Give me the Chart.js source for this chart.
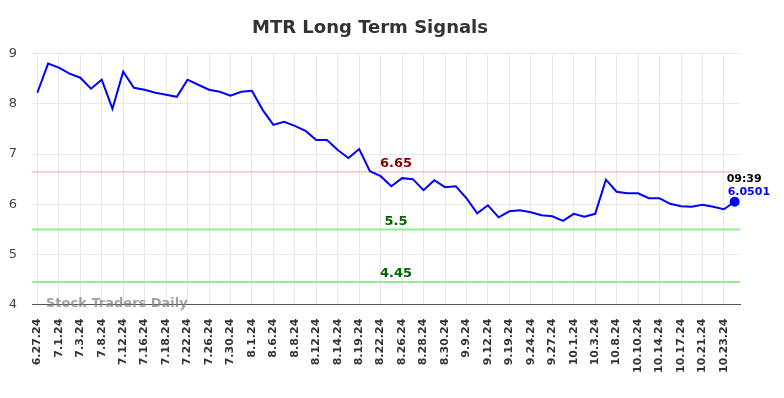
<!DOCTYPE html>
<html>
<head>
<meta charset="utf-8">
<script src="https://cdn.jsdelivr.net/npm/chart.js@4.4.1/dist/chart.umd.min.js"></script>
<style>
  html, body { margin: 0; padding: 0; background: #fff; }
  #wrap { width: 784px; height: 398px; }
</style>
</head>
<body>
<div id="wrap"><canvas id="chart"></canvas></div>
<script>
const dates = [
    "6.27.24", "6.28.24", "7.1.24", "7.2.24", "7.3.24", "7.5.24", "7.8.24", "7.10.24",
    "7.12.24", "7.15.24", "7.16.24", "7.17.24", "7.18.24", "7.19.24", "7.22.24", "7.24.24",
    "7.26.24", "7.29.24", "7.30.24", "7.31.24", "8.1.24", "8.2.24", "8.6.24", "8.7.24",
    "8.8.24", "8.9.24", "8.12.24", "8.13.24", "8.14.24", "8.16.24", "8.19.24", "8.21.24",
    "8.22.24", "8.23.24", "8.26.24", "8.27.24", "8.28.24", "8.29.24", "8.30.24", "9.6.24",
    "9.9.24", "9.11.24", "9.12.24", "9.17.24", "9.19.24", "9.23.24", "9.24.24", "9.26.24",
    "9.27.24", "9.30.24", "10.1.24", "10.2.24", "10.3.24", "10.7.24", "10.8.24", "10.9.24",
    "10.10.24", "10.11.24", "10.14.24", "10.16.24", "10.17.24", "10.18.24", "10.21.24", "10.22.24",
    "10.23.24", "10.24.24"
];
const prices = [
    8.22, 8.80, 8.72, 8.60, 8.52, 8.30, 8.48, 7.90,
    8.64, 8.32, 8.28, 8.22, 8.18, 8.14, 8.48, 8.38,
    8.28, 8.24, 8.16, 8.24, 8.26, 7.88, 7.58, 7.64,
    7.56, 7.46, 7.28, 7.28, 7.08, 6.92, 7.10, 6.66,
    6.56, 6.36, 6.52, 6.50, 6.28, 6.48, 6.34, 6.36,
    6.12, 5.82, 5.98, 5.74, 5.86, 5.88, 5.84, 5.78,
    5.76, 5.67, 5.81, 5.75, 5.81, 6.49, 6.25, 6.22,
    6.22, 6.12, 6.12, 6.01, 5.96, 5.95, 5.99, 5.95,
    5.90, 6.0501
];
const resistance = [6.65];
const supports = [5.5, 4.45];
const yTicks = [4, 5, 6, 7, 8, 9];
const lastTime = "09:39";

// draws the signal lines, their labels, the last value tag and the watermark
const signalPlugin = {
    id: "signals",
    beforeDatasetsDraw(chart) {
        const { ctx, chartArea, scales } = chart;
        const y = scales.y;
        ctx.save();
        const levels = [
            ...resistance.map(v => ({ v, line: "rgba(255,0,0,0.2)", text: "#8b0000" })),
            ...supports.map(v => ({ v, line: "#90ee90", text: "#006400" })),
        ];
        const midX = 396;
        levels.forEach(l => {
            const py = y.getPixelForValue(l.v);
            ctx.strokeStyle = l.line;
            ctx.lineWidth = 2;
            ctx.beginPath();
            ctx.moveTo(chartArea.left, py);
            ctx.lineTo(chartArea.right, py);
            ctx.stroke();
            ctx.fillStyle = l.text;
            ctx.font = "bold 13px 'DejaVu Sans'";
            ctx.textAlign = "center";
            ctx.textBaseline = "middle";
            ctx.fillText(String(l.v), midX, py - 8);
        });
        ctx.fillStyle = "rgba(128,128,128,0.75)";
        ctx.font = "bold 13px 'DejaVu Sans'";
        ctx.textAlign = "left";
        ctx.textBaseline = "middle";
        ctx.fillText("Stock Traders Daily", chartArea.left + 14, chartArea.bottom - 1);
        ctx.restore();
    },
    afterDatasetsDraw(chart) {
        const { ctx } = chart;
        const meta = chart.getDatasetMeta(0);
        const last = meta.data[meta.data.length - 1];
        ctx.save();
        ctx.font = "bold 11px 'DejaVu Sans'";
        ctx.textAlign = "left";
        ctx.textBaseline = "middle";
        ctx.fillStyle = "#000";
        ctx.fillText(lastTime, last.x - 8, last.y - 23);
        ctx.fillStyle = "#0000ff";
        ctx.fillText(String(prices[prices.length - 1]), last.x - 7, last.y - 10);
        ctx.restore();
    }
};

const canvas = document.getElementById("chart");
new Chart(canvas.getContext("2d"), {
    type: "line",
    data: {
        labels: dates,
        datasets: [
            {
                data: prices,
                borderColor: "#0000ff",
                backgroundColor: "#0000ff",
                borderWidth: 2,
                tension: 0,
                fill: false,
                pointRadius: prices.map((_, i) => (i === prices.length - 1 ? 4 : 0)),
                pointHoverRadius: 0,
            },
        ],
    },
    options: {
        responsive: true,
        maintainAspectRatio: false,
        animation: false,
        layout: { padding: { left: 0, right: 44, top: 4, bottom: 11 } },
        plugins: {
            legend: { display: false },
            tooltip: { enabled: false },
            title: {
                display: true,
                text: "MTR Long Term Signals",
                color: "#333",
                font: { family: "'DejaVu Sans'", size: 18, weight: "bold" },
                padding: { top: 14, bottom: 14 },
            },
        },
        scales: {
            x: {
                offset: true,
                grid: {
                    offset: false,
                    drawTicks: false,
                    color: ctx => (ctx.index % 2 === 0 ? "#e8e8e8" : "rgba(0,0,0,0)"),
                },
                border: { color: "#555", width: 1 },
                ticks: {
                    autoSkip: false,
                    maxRotation: 90,
                    minRotation: 90,
                    padding: 14,
                    color: "#333",
                    font: { family: "'DejaVu Sans'", size: 11, weight: "bold" },
                    callback: (v, i) => (i % 2 === 0 ? dates[i] : ""),
                },
            },
            y: {
                min: yTicks[0],
                max: yTicks[yTicks.length - 1],
                afterBuildTicks: axis => { axis.ticks = yTicks.map(v => ({ value: v })); },
                afterFit: axis => { axis.width = 32; },
                grid: { color: "#e8e8e8", drawTicks: false },
                border: { display: false },
                ticks: {
                    padding: 15,
                    color: "#444",
                    font: { family: "'DejaVu Sans'", size: 13 },
                },
            },
        },
    },
    plugins: [signalPlugin],
});
</script>
</body>
</html>
